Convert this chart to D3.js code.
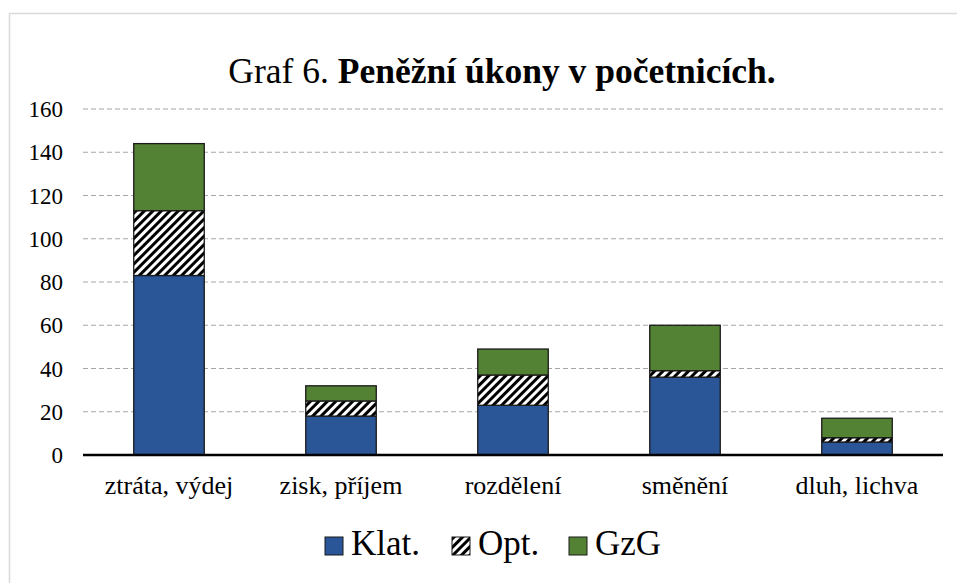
<!DOCTYPE html>
<html>
<head>
<meta charset="utf-8">
<script src="https://cdn.jsdelivr.net/npm/d3@7"></script>
<style>
  body { margin: 0; background: #fff; }
</style>
</head>
<body>
<svg id="chart" width="957" height="583"></svg>
<script>
// chart data
var categories = ["ztráta, výdej", "zisk, příjem", "rozdělení", "směnění", "dluh, lichva"];
var klat = [83, 18, 23, 36, 6];
var opt = [30, 7, 14, 3, 2];
var gzg = [31, 7, 12, 21, 9];
var seriesNames = ["Klat.", "Opt.", "GzG"];
var yTicks = [0, 20, 40, 60, 80, 100, 120, 140, 160];

var serif = "Liberation Serif";

var svg = d3.select("#chart").attr("font-family", serif);
var margin = { left: 83, right: 14, top: 109, bottom: 128 };
var width = 957 - margin.left - margin.right;
var height = 583 - margin.top - margin.bottom;

// outer frame
svg.append("rect")
  .attr("x", 9.5).attr("y", 13.5)
  .attr("width", 1000).attr("height", 1000)
  .attr("fill", "none")
  .attr("stroke", "#d9d9d9")
  .attr("stroke-width", 1.5);

var defs = svg.append("defs");
var pattern = defs.append("pattern")
  .attr("id", "wideUp")
  .attr("patternUnits", "userSpaceOnUse")
  .attr("width", 6).attr("height", 6)
  .attr("patternTransform", "rotate(45)");
pattern.append("rect").attr("width", 6).attr("height", 6).attr("fill", "#fff");
pattern.append("rect").attr("width", 3).attr("height", 6).attr("fill", "#000");

var colors = ["#2a5597", "url(#wideUp)", "#548235"];

var title = svg.append("text")
  .attr("x", 502).attr("y", 83)
  .attr("text-anchor", "middle")
  .attr("font-family", serif)
  .attr("font-size", 35.5);
title.append("tspan").text("Graf 6. ");
title.append("tspan").attr("font-weight", "bold").text("Peněžní úkony v početnicích.");

var g = svg.append("g").attr("transform", "translate(" + margin.left + "," + margin.top + ")");

var x = d3.scaleBand().domain(categories).range([0, width]).paddingInner(0.59).paddingOuter(0.295);
var y = d3.scaleLinear().domain([0, 160]).range([height, 0]);

// grid lines
g.selectAll(".grid")
  .data(yTicks.slice(1))
  .enter().append("line")
  .attr("x1", 0).attr("x2", width)
  .attr("y1", function(d) { return y(d); })
  .attr("y2", function(d) { return y(d); })
  .attr("stroke", "#a6a6a6")
  .attr("stroke-width", 1)
  .attr("stroke-dasharray", "5,3");

// y tick labels
g.selectAll(".ylab")
  .data(yTicks)
  .enter().append("text")
  .attr("x", -20)
  .attr("y", function(d) { return y(d); })
  .attr("dy", "0.35em")
  .attr("text-anchor", "end")
  .attr("font-family", serif)
  .attr("font-size", 23)
  .text(function(d) { return d; });

var stackData = categories.map(function(c, i) {
  return { cat: c, "Klat.": klat[i], "Opt.": opt[i], "GzG": gzg[i] };
});
var stack = d3.stack().keys(seriesNames)(stackData);

g.selectAll(".series")
  .data(stack)
  .enter().append("g")
  .attr("fill", function(d, i) { return colors[i]; })
  .selectAll("rect")
  .data(function(d) { return d; })
  .enter().append("rect")
  .attr("x", function(d) { return x(d.data.cat); })
  .attr("y", function(d) { return y(d[1]); })
  .attr("width", x.bandwidth())
  .attr("height", function(d) { return y(d[0]) - y(d[1]); })
  .attr("stroke", "#1a1a1a")
  .attr("stroke-width", 1.3);

// zero axis
g.append("line")
  .attr("x1", 0).attr("x2", width)
  .attr("y1", y(0)).attr("y2", y(0))
  .attr("stroke", "#000")
  .attr("stroke-width", 2.5);

// category labels
g.selectAll(".xlab")
  .data(categories)
  .enter().append("text")
  .attr("x", function(d) { return x(d) + x.bandwidth() / 2; })
  .attr("y", height + 39)
  .attr("text-anchor", "middle")
  .attr("font-family", serif)
  .attr("font-size", 26)
  .text(function(d) { return d; });

// legend
var legendItems = [
  { name: "Klat.", x: 325 },
  { name: "Opt.", x: 452 },
  { name: "GzG", x: 569 }
];
var legend = svg.selectAll(".legend")
  .data(legendItems)
  .enter().append("g")
  .attr("transform", function(d) { return "translate(" + d.x + ",537)"; });
legend.append("rect")
  .attr("width", 18).attr("height", 18)
  .attr("fill", function(d, i) { return colors[i]; })
  .attr("stroke", "#1a1a1a")
  .attr("stroke-width", 1);
legend.append("text")
  .attr("x", 26).attr("y", 18)
  .attr("font-family", serif)
  .attr("font-size", 35)
  .text(function(d) { return d.name; });
</script>
</body>
</html>
